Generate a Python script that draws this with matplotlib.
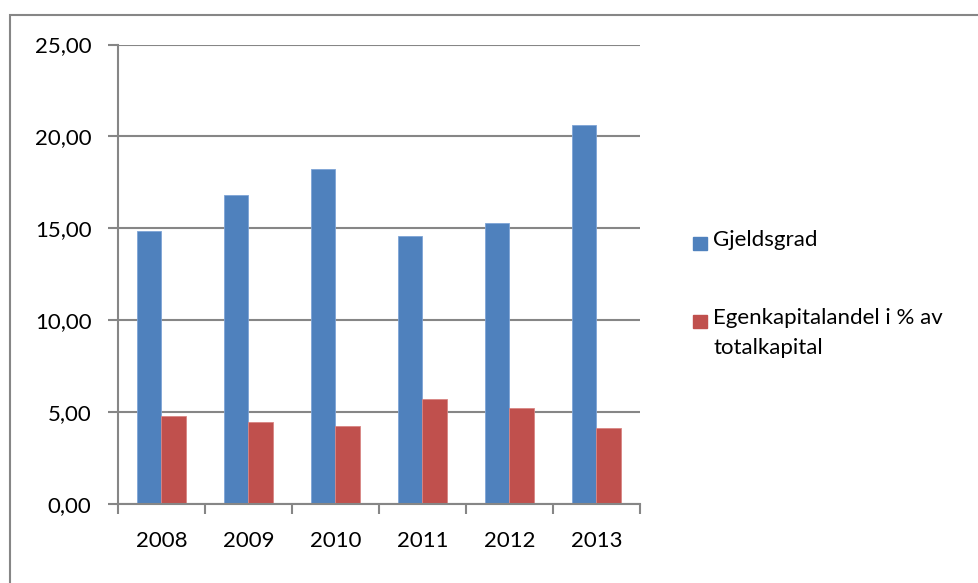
import matplotlib.pyplot as plt
from matplotlib.patches import Rectangle
import numpy as np

years = ["2008", "2009", "2010", "2011", "2012", "2013"]
gjeldsgrad = [14.85, 16.81, 18.22, 14.58, 15.30, 20.63]
egenkapital = [4.82, 4.47, 4.27, 5.71, 5.23, 4.16]
labels = ["Gjeldsgrad", "Egenkapitalandel i % av\ntotalkapital"]
colors = ["#4f81bd", "#c0504d"]

plt.rcParams['font.family'] = ['Lato', 'DejaVu Sans']

fig = plt.figure(figsize=(9.79, 5.83), dpi=100)
ax = fig.add_axes([118 / 979, 1 - 504.3 / 583, (640 - 118) / 979, (504.3 - 44.5) / 583])

x = np.arange(len(years))
w = 1 / 3.5
ax.bar(x - w / 2, gjeldsgrad, w, color=colors[0], edgecolor='#7ea4d6', linewidth=0.6)
ax.bar(x + w / 2, egenkapital, w, color=colors[1], edgecolor='#d98583', linewidth=0.6)

ax.set_xlim(-0.5, len(years) - 0.5)
ax.set_ylim(0, 25)
ax.set_yticks(np.arange(0, 26, 5))
ax.set_yticklabels([f"{v:.2f}".replace(".", ",") for v in np.arange(0, 26, 5)])
ax.set_xticks(np.arange(-0.5, len(years)), minor=False)
ax.set_xticklabels([])
ax.set_xticks(x, minor=True)
ax.set_xticklabels(years, minor=True)
ax.tick_params(axis='x', which='minor', length=0, pad=19, labelsize=16)
ax.tick_params(axis='x', which='major', length=7, width=1.5, color='#868686', direction='out')
ax.tick_params(axis='y', length=7, width=1.5, color='#868686', direction='out', pad=12, labelsize=16)

ax.yaxis.grid(True, color='#868686', linewidth=1.5)
ax.set_axisbelow(True)
for s in ['top', 'right']:
    ax.spines[s].set_visible(False)
for s in ['left', 'bottom']:
    ax.spines[s].set_color('#868686')
    ax.spines[s].set_linewidth(1.5)

# legend drawn by hand so the marker sits on the first line
W, H = 979, 583
for lab, c, ytop in zip(labels, colors, [237, 315]):
    fig.patches.append(Rectangle((693 / W, 1 - (ytop + 13) / H), 14 / W, 13 / H,
                                 color=c, transform=fig.transFigure))
    fig.text(713 / W, 1 - (ytop - 7) / H, lab, fontsize=16, va='top', ha='left',
             linespacing=1.65)

# outer chart frame
fig.patches.append(Rectangle((10 / W, -0.05), 1.1, 1.05 - 15 / H, fill=False,
                             edgecolor='#868686', linewidth=1.5, transform=fig.transFigure))

fig.savefig("out.png", dpi=100)
